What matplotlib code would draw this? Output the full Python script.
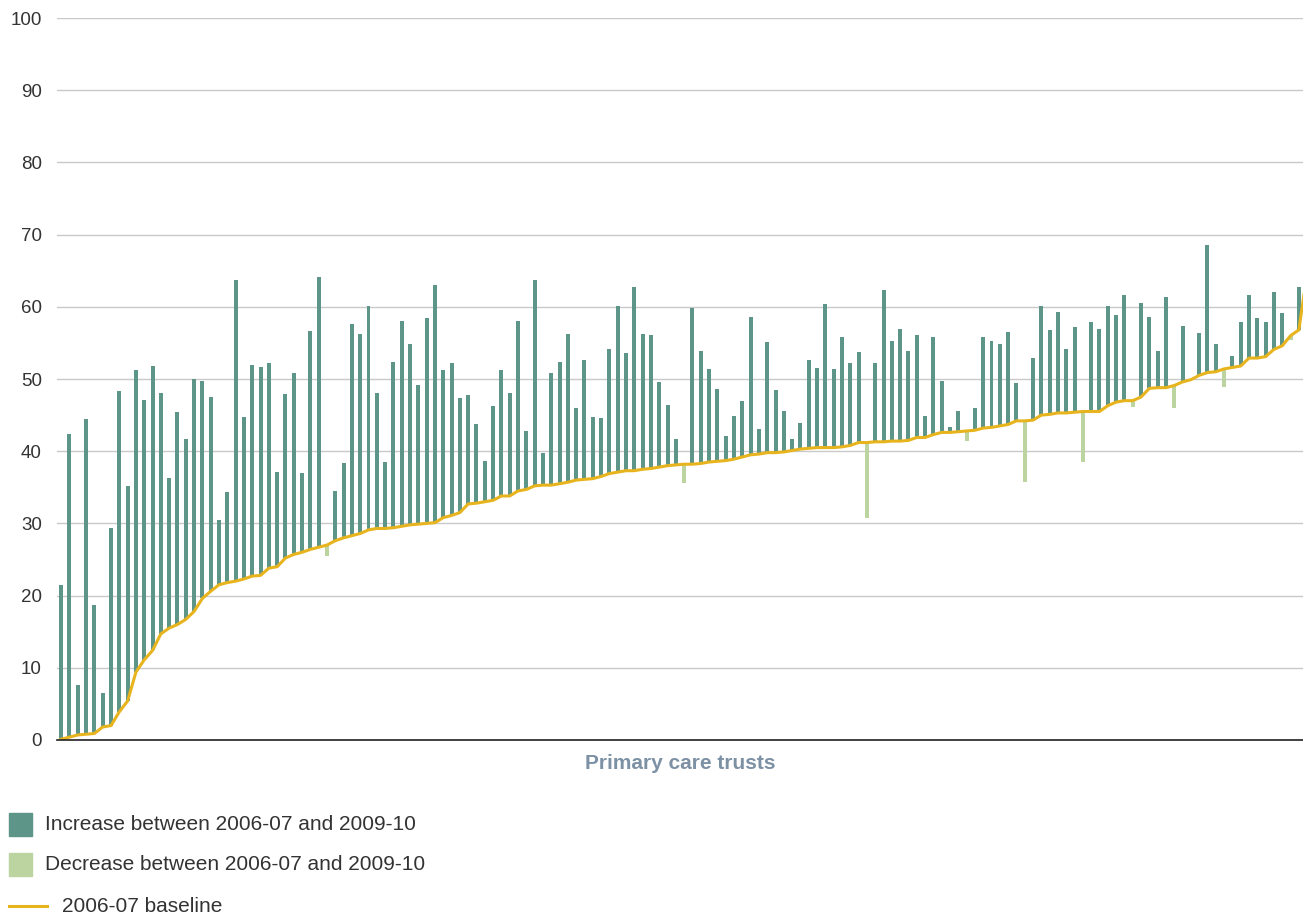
import numpy as np
import matplotlib.pyplot as plt
from matplotlib.patches import Rectangle
from matplotlib.lines import Line2D


# 2006-07 baseline per PCT, sorted ascending (last point sits just past the axis edge)
baseline_0607 = [
    0.1, 0.4, 0.7, 0.8, 0.9, 1.8, 2.0, 3.9, 5.4, 9.4,
    11.1, 12.4, 14.7, 15.5, 16.0, 16.7, 17.8, 19.6, 20.6, 21.5,
    21.8, 22.0, 22.3, 22.7, 22.8, 23.8, 24.0, 25.2, 25.7, 26.0,
    26.4, 26.7, 27.0, 27.6, 28.0, 28.3, 28.6, 29.1, 29.3, 29.3,
    29.4, 29.6, 29.8, 29.9, 30.0, 30.1, 30.8, 31.1, 31.5, 32.7,
    32.8, 33.0, 33.2, 33.8, 33.8, 34.5, 34.7, 35.2, 35.3, 35.3,
    35.5, 35.7, 36.0, 36.1, 36.2, 36.5, 36.9, 37.1, 37.3, 37.3,
    37.5, 37.6, 37.8, 38.0, 38.1, 38.2, 38.2, 38.3, 38.5, 38.6,
    38.7, 38.9, 39.2, 39.5, 39.6, 39.8, 39.8, 39.9, 40.1, 40.3,
    40.4, 40.5, 40.5, 40.5, 40.6, 40.8, 41.2, 41.2, 41.3, 41.3,
    41.4, 41.4, 41.5, 41.9, 41.9, 42.3, 42.6, 42.6, 42.7, 42.8,
    42.9, 43.2, 43.3, 43.5, 43.7, 44.2, 44.2, 44.3, 45.0, 45.1,
    45.3, 45.3, 45.4, 45.5, 45.5, 45.5, 46.3, 46.8, 47.0, 47.0,
    47.5, 48.7, 48.8, 48.8, 49.1, 49.6, 49.9, 50.5, 50.9, 51.0,
    51.4, 51.6, 51.8, 52.9, 52.9, 53.1, 54.1, 54.6, 56.0, 56.8,
    64.7,
]

# 2009-10 value for the same PCTs
value_0910 = [
    21.5, 42.4, 7.6, 44.4, 18.7, 6.5, 29.3, 48.3, 35.2, 51.2,
    47.1, 51.8, 48.0, 36.3, 45.4, 41.7, 50.0, 49.7, 47.5, 30.5,
    34.3, 63.7, 44.7, 51.9, 51.6, 52.2, 37.1, 47.9, 50.8, 37.0,
    56.6, 64.1, 25.5, 34.5, 38.3, 57.6, 56.2, 60.1, 48.0, 38.5,
    52.3, 58.0, 54.8, 49.1, 58.4, 63.0, 51.2, 52.2, 47.3, 47.8,
    43.7, 38.6, 46.2, 51.2, 48.0, 58.0, 42.8, 63.7, 39.7, 50.9,
    52.3, 56.3, 46.0, 52.6, 44.7, 44.6, 54.1, 60.1, 53.6, 62.7,
    56.3, 56.1, 49.6, 46.4, 41.7, 35.6, 59.9, 53.9, 51.4, 48.6,
    42.1, 44.9, 46.9, 58.6, 43.1, 55.1, 48.5, 45.5, 41.7, 43.9,
    52.6, 51.5, 60.4, 51.4, 55.8, 52.2, 53.7, 30.7, 52.2, 62.3,
    55.2, 56.9, 53.9, 56.1, 44.9, 55.8, 49.7, 43.3, 45.5, 41.4,
    46.0, 55.8, 55.2, 54.8, 56.5, 49.4, 35.7, 52.9, 60.1, 56.8,
    59.3, 54.1, 57.2, 38.5, 57.9, 56.9, 60.1, 58.9, 61.6, 46.1,
    60.5, 58.6, 53.9, 61.4, 46.0, 57.4, 49.9, 56.4, 68.6, 54.8,
    48.9, 53.2, 57.9, 61.6, 58.5, 57.9, 62.0, 59.1, 55.4, 62.8,
    64.7,
]

legend_labels = [
    "Increase between 2006-07 and 2009-10",
    "Decrease between 2006-07 and 2009-10",
    "2006-07 baseline",
]

INC = "#5e9589"
DEC = "#bcd4a0"
LINE = "#e8b41e"
TEXT = "#333333"

plt.rcParams["font.family"] = ["Liberation Sans", "DejaVu Sans"]

W, H = 1303, 917
fig = plt.figure(figsize=(W / 100, H / 100), dpi=100)
ax = fig.add_axes([57 / W, 1 - 740 / H, (1303 - 57) / W, (740 - 18) / H])

base = np.array(baseline_0607)
new = np.array(value_0910)
pct = np.arange(len(base))
diff = new - base
colors = [INC if d >= 0 else DEC for d in diff]

ax.bar(pct, diff, bottom=base, width=0.48, color=colors, zorder=2)
ax.plot(pct, base, color=LINE, lw=2.2, zorder=3, solid_joinstyle="round")

ax.set_xlim(-0.5, 149.5)
ax.set_ylim(0, 100)
ax.set_yticks(np.arange(0, 101, 10))
ax.yaxis.grid(True, color="#c9c9c9", lw=1.0, zorder=0)
ax.set_axisbelow(True)
ax.set_xticks([])
ax.tick_params(axis="y", length=0, pad=11, labelsize=13.5, labelcolor=TEXT)
for s in ["top", "right", "left"]:
    ax.spines[s].set_visible(False)
ax.spines["bottom"].set_color("#222222")
ax.spines["bottom"].set_linewidth(1.2)
ax.spines["bottom"].set_zorder(4)

ax.set_xlabel("Primary care trusts", fontsize=15, fontweight="bold",
              color="#7d91a5", labelpad=10)


def fx(x):
    return x / W


def fy(y):
    return 1 - y / H


# legend drawn by hand to keep the original spacing
fig.add_artist(Rectangle((fx(9), fy(836)), 23 / W, 23 / H, color=INC,
                         transform=fig.transFigure))
fig.add_artist(Rectangle((fx(9), fy(876)), 23 / W, 23 / H, color=DEC,
                         transform=fig.transFigure))
fig.add_artist(Line2D([fx(9), fx(47)], [fy(906), fy(906)], color=LINE, lw=2.2,
                      transform=fig.transFigure))
fig.text(fx(45), fy(825), legend_labels[0], fontsize=15, color=TEXT, va="center")
fig.text(fx(45), fy(865), legend_labels[1], fontsize=15, color=TEXT, va="center")
fig.text(fx(62), fy(906), legend_labels[2], fontsize=15, color=TEXT, va="center")

fig.savefig("out.png", dpi=100)
